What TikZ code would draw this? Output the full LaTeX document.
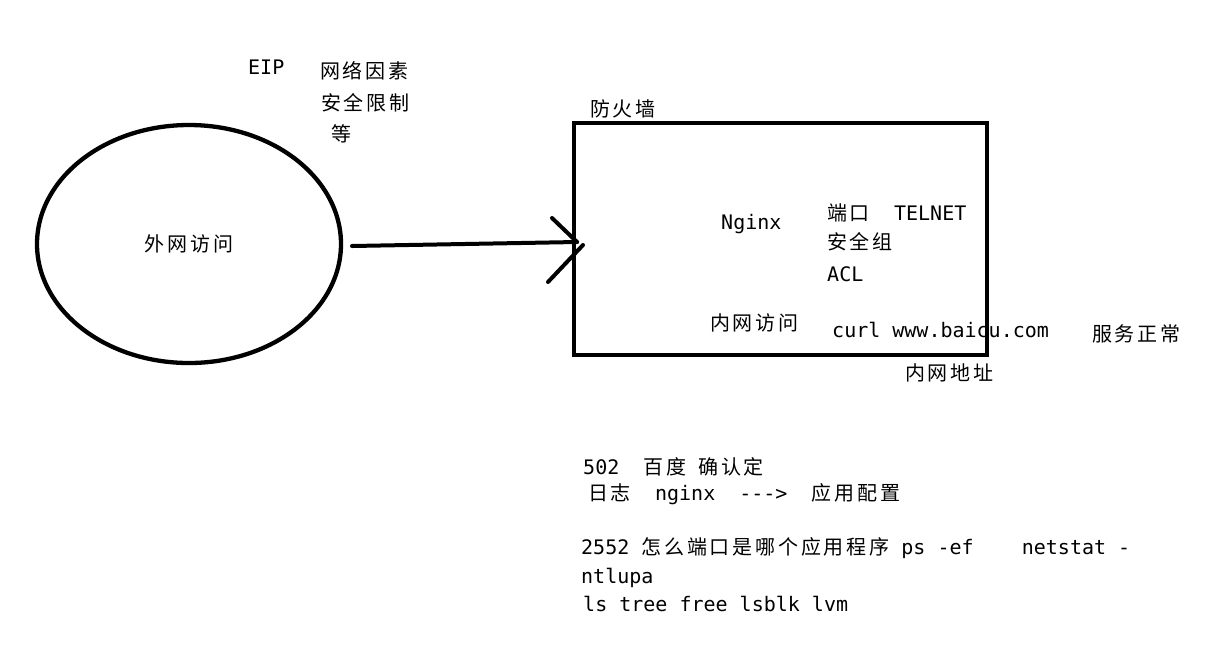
\documentclass[tikz,border=0pt]{standalone}
\usepackage{fontspec}
\setmonofont{DejaVu Sans Mono}
\newfontfamily\cjk{Noto Sans CJK SC}[LetterSpace=14]
\newcommand\zh[1]{{\cjk #1}}
\usetikzlibrary{shapes.geometric}
\tikzset{
  txt/.style={anchor=base west, inner sep=0pt, font=\ttfamily\fontsize{20}{26}\selectfont},
  heavy/.style={line width=4.3pt, draw=black},
  stroke/.style={line width=4pt, line cap=round}
}
\begin{document}
\begin{tikzpicture}[x=1pt,y=-1pt]
\useasboundingbox (0,0) rectangle (1214,649);
% shapes
\node[heavy, ellipse, minimum width=304pt, minimum height=238pt, inner sep=0pt,
      font=\ttfamily\fontsize{20}{26}\selectfont] (ell) at (189,244) {\zh{外网访问}};
\node[heavy, rectangle, minimum width=413pt, minimum height=232pt, inner sep=0pt] (fw) at (780.5,239) {};
% arrow (hand drawn)
\coordinate (start) at (352,246);
\coordinate (tip) at (577,242);
\coordinate (h1) at (552,218);
\coordinate (h2a) at (548,282);
\coordinate (h2b) at (583,245);
\draw[stroke] (start) -- (tip);
\draw[stroke] (h1) -- (tip);
\draw[stroke] (h2a) -- (h2b);
% labels top
\node[txt] (eip) at (248,74) {EIP};
\node[txt] (wl) at (320,78) {\zh{网络因素}};
\node[txt] (aq) at (321,110) {\zh{安全限制}};
\node[txt] (deng) at (331,141) {\zh{等}};
\node[txt] (fhq) at (590,116) {\zh{防火墙}};
% inside box
\node[txt] (nginx) at (721,229) {Nginx};
\node[txt] (port) at (827,220) {\zh{端口}~~TELNET};
\node[txt] (sg) at (827,249) {\zh{安全组}};
\node[txt] (acl) at (827,281) {ACL};
\node[txt] (nw) at (710,330) {\zh{内网访问}};
\node[txt] (curl) at (832,337) {curl www.baicu.com};
\node[txt] (fw2) at (1092,341) {\zh{服务正常}};
\node[txt] (nwdz) at (905,380) {\zh{内网地址}};
% bottom notes
\node[txt] (r1) at (583,474) {502~~\zh{百度} \zh{确认定}};
\node[txt] (r2) at (588,500) {\zh{日志}~~nginx~~--->~~\zh{应用配置}};
\node[txt] (r3) at (581,554) {2552 \zh{怎么端口是哪个应用程序} ps -ef~~~~netstat -};
\node[txt] (r4) at (581,583) {ntlupa};
\node[txt] (r5) at (583,611) {ls tree free lsblk lvm};
\end{tikzpicture}
\end{document}
